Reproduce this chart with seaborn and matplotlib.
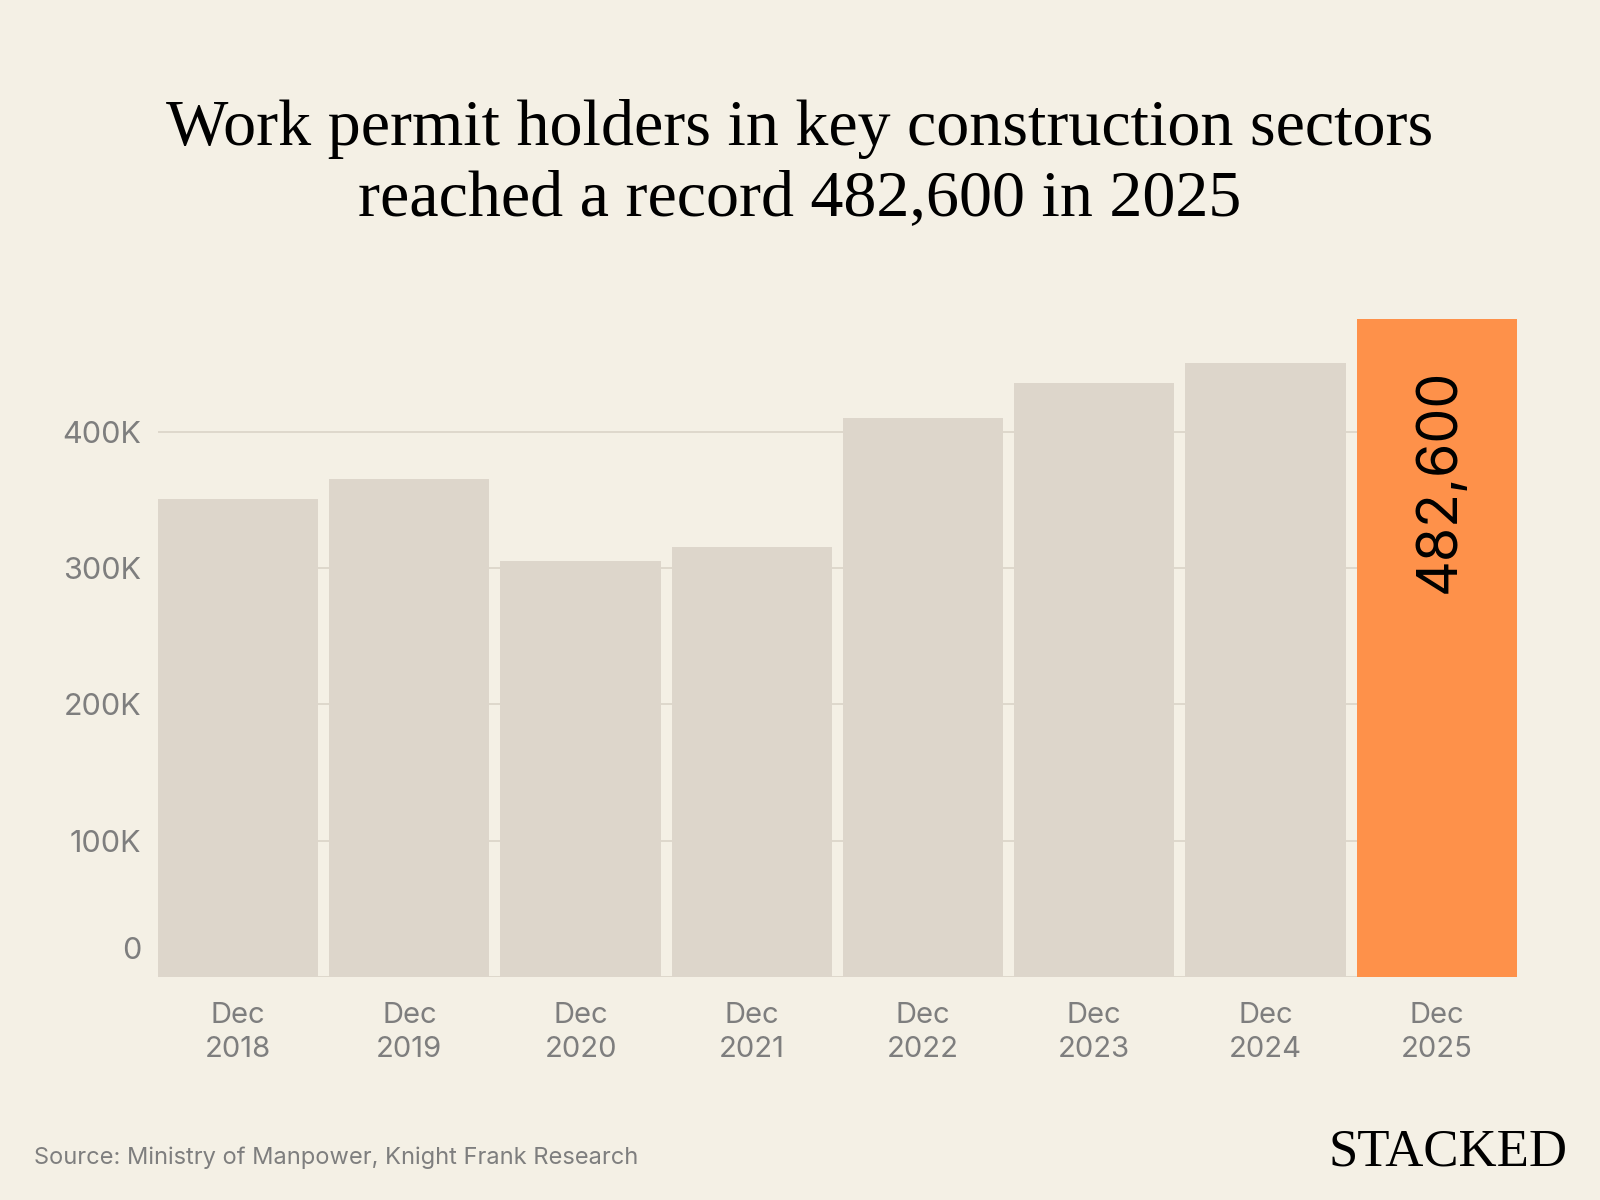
import matplotlib
matplotlib.use("Agg")
import matplotlib.pyplot as plt
import matplotlib.transforms as mtransforms
import seaborn as sns
import pandas as pd

# --- data ---
periods = ["Dec\n2018", "Dec\n2019", "Dec\n2020", "Dec\n2021",
           "Dec\n2022", "Dec\n2023", "Dec\n2024", "Dec\n2025"]
holders = [350700, 365400, 305000, 315500, 410400, 435600, 450700, 482600]
ytick_values = [0, 100000, 200000, 300000, 400000]
ytick_labels = ["0", "100K", "200K", "300K", "400K"]
highlight_label = "482,600"

BG = "#F4F0E5"
BAR = "#DDD6CB"
ORANGE = "#FE914A"
GREY = "#7E7E7E"
GRID = "#DAD4C8"

sns.set_theme(style="white")
plt.rcParams["font.family"] = ["Inter", "DejaVu Sans"]

df = pd.DataFrame({"period": periods, "holders": holders})
colors = {p: (ORANGE if i == len(periods) - 1 else BAR) for i, p in enumerate(periods)}

fig = plt.figure(figsize=(16, 12), dpi=100, facecolor=BG)
ax = fig.add_axes([0.09875, 0.18583, 0.84925, 0.568])
ax.set_facecolor(BG)

sns.barplot(data=df, x="period", y="holders", hue="period", palette=colors,
            width=0.936, legend=False, saturation=1, linewidth=0, ax=ax, zorder=2)

ax.set_xlim(-0.468, len(periods) - 1 + 0.468)
ax.set_ylim(0, 500000)
ax.set_yticks(ytick_values)
ax.set_yticklabels(ytick_labels)
ax.set_xlabel("")
ax.set_ylabel("")

# gridlines behind the bars
for v in ytick_values:
    ax.axhline(v, color=GRID, lw=1.2, zorder=1)

for s in ax.spines.values():
    s.set_visible(False)

ax.tick_params(axis="y", length=0, pad=12, labelsize=22, labelcolor=GREY)
ax.tick_params(axis="x", length=0, pad=18, labelsize=21, labelcolor=GREY)
for lbl in ax.get_xticklabels():
    lbl.set_linespacing(1.32)

# the "0" label sits above the baseline in the reference
zero_lbl = ax.get_yticklabels()[0]
zero_lbl.set_transform(zero_lbl.get_transform() +
                       mtransforms.ScaledTranslation(0, 29 / 100, fig.dpi_scale_trans))

# value inside the highlighted bar
last = len(holders) - 1
ax.annotate(highlight_label, xy=(last, holders[last]), xytext=(2, -36),
            textcoords="offset points", rotation=90, ha="center", va="top",
            fontsize=40, color="black", zorder=3)

# title
fig.text(0.5, 1 - 145 / 1200,
         "Work permit holders in key construction sectors",
         ha="center", va="baseline", fontsize=47.5, family="Liberation Serif", color="black")
fig.text(0.5, 1 - 215 / 1200,
         "reached a record 482,600 in 2025",
         ha="center", va="baseline", fontsize=47.5, family="Liberation Serif", color="black")

# footer
fig.text(34 / 1600, 1 - 1164 / 1200, "Source: Ministry of Manpower, Knight Frank Research",
         ha="left", va="baseline", fontsize=17, color=GREY)
fig.text(1567 / 1600, 1 - 1165 / 1200, "STACKED",
         ha="right", va="baseline", fontsize=38, family="Liberation Serif", color="black")

fig.savefig("out.png", dpi=100, facecolor=BG)
